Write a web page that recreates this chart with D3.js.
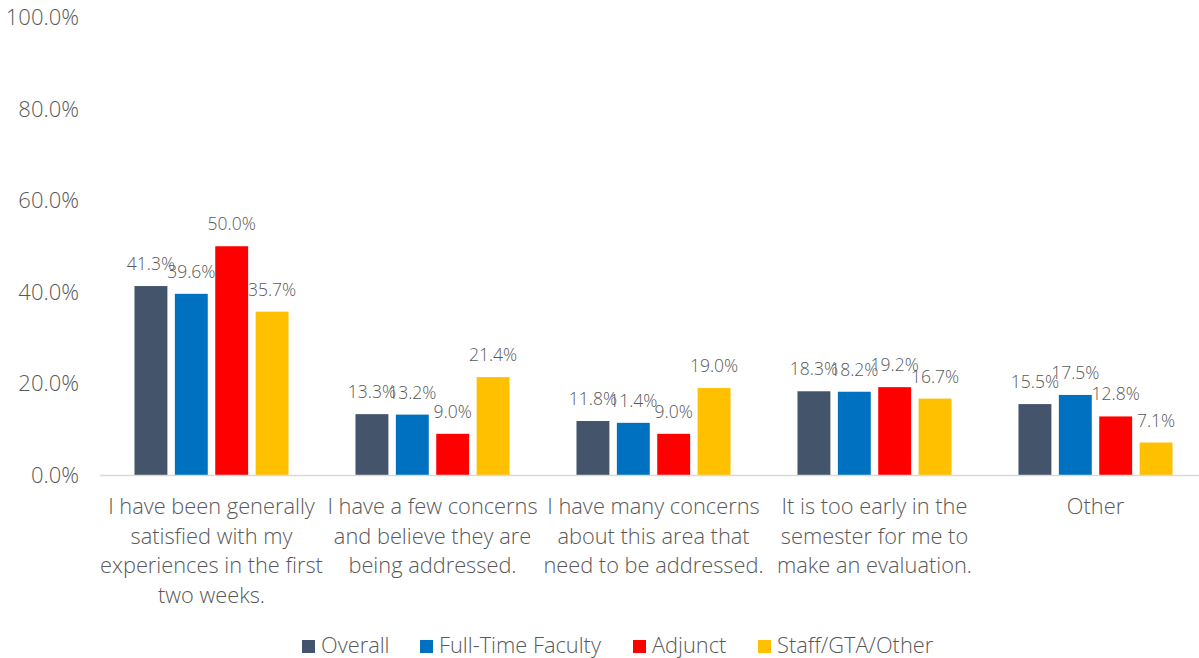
<!DOCTYPE html>
<html>
<head>
<meta charset="utf-8">
<script src="https://cdn.jsdelivr.net/npm/d3@7"></script>
<style>
  html, body { margin: 0; padding: 0; background: #fff; }
  svg { display: block; }
  text { font-family: "Open Sans", "Lato", sans-serif; font-weight: 300; fill: #595959; }
</style>
</head>
<body>
<svg id="chart" width="1199" height="658"></svg>
<script>
// Response categories (each entry is one wrapped axis label)
const categories = [
  ["I have been generally", "satisfied with my", "experiences in the first", "two weeks."],
  ["I have a few concerns", "and believe they are", "being addressed."],
  ["I have many concerns", "about this area that", "need to be addressed."],
  ["It is too early in the", "semester for me to", "make an evaluation."],
  ["Other"]
];
const seriesNames = ["Overall", "Full-Time Faculty", "Adjunct", "Staff/GTA/Other"];
const seriesColors = ["#44546A", "#0070C0", "#FF0000", "#FFC000"];

// Percent of respondents per category, one array per group
const overall   = [41.3, 13.3, 11.8, 18.3, 15.5];
const fullTime  = [39.6, 13.2, 11.4, 18.2, 17.5];
const adjunct   = [50.0,  9.0,  9.0, 19.2, 12.8];
const staffGta  = [35.7, 21.4, 19.0, 16.7,  7.1];
const yTicks = [0, 20, 40, 60, 80, 100];

const seriesValues = [overall, fullTime, adjunct, staffGta];
const catKeys = categories.map((c, i) => "c" + i);

const svg = d3.select("#chart");

const y = d3.scaleLinear().domain([0, 100]).range([475, 17.5]);
const x0 = d3.scaleBand().domain(catKeys).range([101, 1206])
  .paddingInner(0.303).paddingOuter(0.1515);
const x1 = d3.scaleBand().domain(seriesNames).range([0, x0.bandwidth()])
  .paddingInner(0.185).paddingOuter(0);

// Y axis labels (no axis line, no gridlines)
const yAxis = d3.axisLeft(y).tickValues(yTicks).tickSize(0).tickPadding(0)
  .tickFormat(d => d.toFixed(1) + "%");
const yg = svg.append("g").attr("transform", "translate(79,0)").call(yAxis);
yg.select(".domain").remove();
yg.selectAll("text")
  .style("font-family", "'Open Sans', Lato, sans-serif")
  .style("font-weight", "300")
  .style("font-size", "22px").attr("fill", "#595959");

// Bars
const groups = svg.append("g").selectAll("g")
  .data(catKeys).join("g")
  .attr("transform", d => `translate(${x0(d)},0)`);

groups.selectAll("rect")
  .data((k, ci) => seriesNames.map((s, si) => ({ s, si, v: seriesValues[si][ci] })))
  .join("rect")
  .attr("x", d => x1(d.s))
  .attr("y", d => y(d.v))
  .attr("width", x1.bandwidth())
  .attr("height", d => y(0) - y(d.v))
  .attr("fill", d => seriesColors[d.si]);

// Value labels above bars
groups.selectAll("text.val")
  .data((k, ci) => seriesNames.map((s, si) => ({ s, si, v: seriesValues[si][ci] })))
  .join("text")
  .attr("class", "val")
  .attr("x", d => x1(d.s) + x1.bandwidth() / 2)
  .attr("y", d => y(d.v) - 16)
  .attr("text-anchor", "middle")
  .style("font-size", "17.5px")
  .text(d => d.v.toFixed(1) + "%");

// Baseline
svg.append("line")
  .attr("x1", 100).attr("x2", 1199)
  .attr("y1", y(0) + 0.5).attr("y2", y(0) + 0.5)
  .attr("stroke", "#D9D9D9").attr("stroke-width", 1.5);

// Category labels
const catLabels = svg.append("g").selectAll("text")
  .data(categories).join("text")
  .attr("x", (d, i) => x0(catKeys[i]) + x0.bandwidth() / 2)
  .attr("y", 514)
  .attr("text-anchor", "middle")
  .style("font-size", "21.8px");
catLabels.selectAll("tspan")
  .data(d => d).join("tspan")
  .attr("x", function () { return this.parentNode.getAttribute("x"); })
  .attr("dy", (d, i) => i === 0 ? 0 : 29.7)
  .text(d => d);

// Legend
const legendX = [302, 420, 633, 758];
const legend = svg.append("g").selectAll("g")
  .data(seriesNames).join("g")
  .attr("transform", (d, i) => `translate(${legendX[i]},0)`);
legend.append("rect")
  .attr("x", 0).attr("y", 640).attr("width", 13).attr("height", 13)
  .attr("fill", (d, i) => seriesColors[i]);
legend.append("text")
  .attr("x", 19).attr("y", 652.5)
  .style("font-size", "21.8px")
  .text(d => d);
</script>
</body>
</html>
